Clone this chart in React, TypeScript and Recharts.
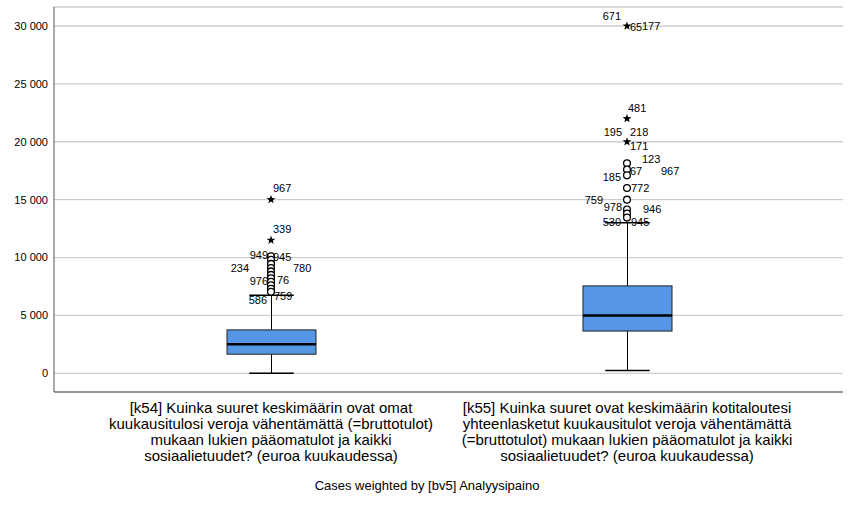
import { Bar, CartesianGrid, ComposedChart, Scatter, XAxis, YAxis } from "recharts";

const CATEGORIES = ["k54", "k55"];
const CATEGORY_LABELS = [
  [
    "[k54] Kuinka suuret keskimäärin ovat omat",
    "kuukausitulosi veroja vähentämättä (=bruttotulot)",
    "mukaan lukien pääomatulot ja kaikki",
    "sosiaalietuudet? (euroa kuukaudessa)",
  ],
  [
    "[k55] Kuinka suuret ovat keskimäärin kotitaloutesi",
    "yhteenlasketut kuukausitulot veroja vähentämättä",
    "(=bruttotulot) mukaan lukien pääomatulot ja kaikki",
    "sosiaalietuudet? (euroa kuukaudessa)",
  ],
];
const CAPTION = "Cases weighted by [bv5] Analyysipaino";

// box statistics per category
const WHISKER_LOW = [0, 250];
const Q1 = [1650, 3650];
const MEDIAN = [2500, 5000];
const Q3 = [3750, 7550];
const WHISKER_HIGH = [6750, 13000];

const Y_TICKS = [0, 5000, 10000, 15000, 20000, 25000, 30000];

// outliers (circles) and extremes (stars)
const CIRCLES_K54 = [10100, 9800, 9450, 9100, 8800, 8500, 8200, 7900, 7600, 7300, 7050];
const STARS_K54 = [15000, 11500];
const CIRCLES_K55 = [18150, 17600, 17100, 16000, 15000, 14150, 13800, 13450];
const STARS_K55 = [30000, 22000, 20000];

// case labels: text + the value they are attached to
const LABEL_TEXT_K54 = ["967", "339", "949", "945", "234", "780", "976", "76", "586", "759"];
const LABEL_VALUE_K54 = [15000, 11500, 10100, 10100, 9100, 9100, 7900, 7900, 7050, 7050];
const LABEL_TEXT_K55 = ["671", "65", "177", "481", "195", "218", "171", "123", "185", "67", "967", "772", "759", "978", "946", "530", "945"];
const LABEL_VALUE_K55 = [30000, 30000, 30000, 22000, 20000, 20000, 20000, 18150, 17100, 17600, 17600, 16000, 15000, 14150, 14150, 13450, 13450];

// label placement (dx, dy in px from the marker, anchor)
const LABEL_POS_K54: [number, number, string][] = [
  [2, -11.5, "start"], [2, -11, "start"], [-3, -1, "end"], [2, 1, "start"], [-22, 0, "end"],
  [22, 0, "start"], [-3, -1, "end"], [6, -2, "start"], [-4, 8, "end"], [3, 4, "start"],
];
const LABEL_POS_K55: [number, number, string][] = [
  [-6, -10, "end"], [3, 1.5, "start"], [15, 0, "start"], [1, -11, "start"], [-5, -10, "end"],
  [3, -10, "start"], [3, 4, "start"], [15, -4, "start"], [-6, 2, "end"], [3, 1.5, "start"],
  [34, 1.5, "start"], [4, 0, "start"], [-24, 0, "end"], [-5, -2, "end"], [16, 0, "start"],
  [-6, 4, "end"], [4, 4.5, "start"],
];

const FONT = '"Liberation Sans", Arial, sans-serif';
const BOX_FILL = "#5596e5";

const boxData = CATEGORIES.map((name, i) => ({
  name,
  low: WHISKER_LOW[i],
  q1: Q1[i],
  median: MEDIAN[i],
  q3: Q3[i],
  high: WHISKER_HIGH[i],
}));

const circleData = [
  ...CIRCLES_K54.map((value) => ({ name: CATEGORIES[0], value })),
  ...CIRCLES_K55.map((value) => ({ name: CATEGORIES[1], value })),
];
const starData = [
  ...STARS_K54.map((value) => ({ name: CATEGORIES[0], value })),
  ...STARS_K55.map((value) => ({ name: CATEGORIES[1], value })),
];
const labelData = [
  ...LABEL_TEXT_K54.map((text, i) => ({
    name: CATEGORIES[0], value: LABEL_VALUE_K54[i], text,
    dx: LABEL_POS_K54[i][0], dy: LABEL_POS_K54[i][1], anchor: LABEL_POS_K54[i][2],
  })),
  ...LABEL_TEXT_K55.map((text, i) => ({
    name: CATEGORIES[1], value: LABEL_VALUE_K55[i], text,
    dx: LABEL_POS_K55[i][0], dy: LABEL_POS_K55[i][1], anchor: LABEL_POS_K55[i][2],
  })),
];

const formatTick = (v: number) => String(v).replace(/\B(?=(\d{3})+(?!\d))/g, " ");

function BoxShape(props: any) {
  const { x, y, width, height, payload } = props;
  const top = Math.min(y, y + height);
  const bottom = Math.max(y, y + height);
  const { low, high } = payload;
  const toY = (v: number) => bottom - ((v - low) / (high - low)) * (bottom - top);
  const cx = x + width / 2;
  const cap = width / 4;
  return (
    <g>
      <line x1={cx} x2={cx} y1={toY(high)} y2={toY(payload.q3)} stroke="#000" />
      <line x1={cx} x2={cx} y1={toY(payload.q1)} y2={toY(low)} stroke="#000" />
      <line x1={cx - cap} x2={cx + cap} y1={toY(high)} y2={toY(high)} stroke="#000" strokeWidth={1.5} />
      <line x1={cx - cap} x2={cx + cap} y1={toY(low)} y2={toY(low)} stroke="#000" strokeWidth={1.5} />
      <rect
        x={x}
        y={toY(payload.q3)}
        width={width}
        height={toY(payload.q1) - toY(payload.q3)}
        fill={BOX_FILL}
        stroke="#222"
      />
      <line x1={x} x2={x + width} y1={toY(payload.median)} y2={toY(payload.median)} stroke="#000" strokeWidth={2.5} />
    </g>
  );
}

function CircleMarker({ cx, cy }: any) {
  return <circle cx={cx} cy={cy} r={3.4} fill="#fff" stroke="#000" strokeWidth={1.3} />;
}

function StarMarker({ cx, cy }: any) {
  const pts: string[] = [];
  for (let i = 0; i < 10; i++) {
    const r = i % 2 === 0 ? 4.6 : 1.9;
    const a = -Math.PI / 2 + (i * Math.PI) / 5;
    pts.push(`${cx + r * Math.cos(a)},${cy + r * Math.sin(a)}`);
  }
  return <polygon points={pts.join(" ")} fill="#000" />;
}

function CaseLabel({ cx, cy, payload }: any) {
  return (
    <text
      x={cx + payload.dx}
      y={cy + payload.dy}
      textAnchor={payload.anchor}
      dominantBaseline="central"
      fontSize={11}
      fontFamily={FONT}
      fill="#000"
    >
      {payload.text}
    </text>
  );
}

function CategoryTick({ x, y, payload }: any) {
  const idx = CATEGORIES.indexOf(payload.value);
  const lines = CATEGORY_LABELS[idx] ?? [];
  return (
    <g>
      {lines.map((line, i) => (
        <text key={i} x={x} y={y + 13 + i * 16} textAnchor="middle" fontSize={15} fontFamily={FONT} fill="#000">
          {line}
        </text>
      ))}
    </g>
  );
}

export default function App() {
  return (
    <div style={{ position: "absolute", left: 0, top: 0, width: 854, height: 505, background: "#fff", fontFamily: FONT }}>
      <ComposedChart width={854} height={505} data={boxData} margin={{ top: 7, right: 11, bottom: 0, left: 0 }}>
        <CartesianGrid vertical={false} stroke="#cdcdcd" strokeWidth={1.3} />
        <XAxis
          dataKey="name"
          type="category"
          allowDuplicatedCategory={false}
          padding={{ left: 39, right: 38 }}
          height={113}
          axisLine={{ stroke: "#555" }}
          tickLine={false}
          tick={<CategoryTick />}
          interval={0}
        />
        <YAxis
          type="number"
          domain={[-1615, 31640]}
          allowDataOverflow
          ticks={Y_TICKS}
          tickFormatter={formatTick}
          width={54}
          axisLine={{ stroke: "#555" }}
          tickLine={false}
          tickMargin={0}
          tick={{ fontSize: 11, fill: "#000", fontFamily: FONT }}
        />
        <Bar dataKey={(d: any) => [d.low, d.high]} barSize={89} shape={<BoxShape />} isAnimationActive={false} />
        <Scatter data={circleData} dataKey="value" shape={<CircleMarker />} isAnimationActive={false} />
        <Scatter data={starData} dataKey="value" shape={<StarMarker />} isAnimationActive={false} />
        <Scatter data={labelData} dataKey="value" shape={<CaseLabel />} isAnimationActive={false} />
      </ComposedChart>
      <div style={{ position: "absolute", left: 0, top: 478, width: 854, textAlign: "center", fontSize: 13, lineHeight: "16px", color: "#000" }}>
        {CAPTION}
      </div>
    </div>
  );
}
